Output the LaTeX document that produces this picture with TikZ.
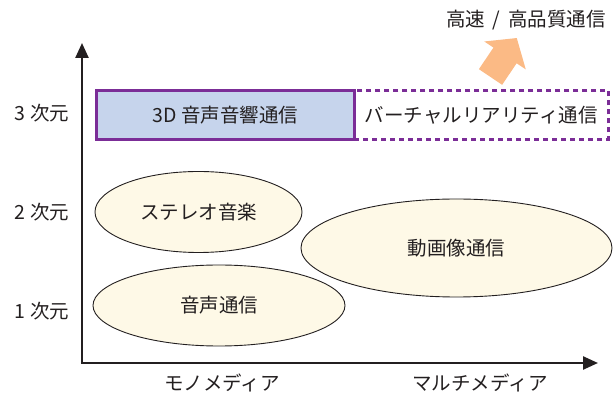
\documentclass[tikz,border=0pt]{standalone}
\usepackage{fontspec}
\setmainfont{Noto Sans CJK JP}
\usetikzlibrary{shapes.geometric,arrows.meta}
\definecolor{txt}{HTML}{231F20}
\definecolor{purp}{HTML}{7B2D97}
\definecolor{boxblue}{HTML}{C6D4EC}
\definecolor{cream}{HTML}{FEF9E7}
\definecolor{orng}{HTML}{FBBA85}
\tikzset{
  txtfont/.style={font=\fontsize{19.5}{21}\selectfont},
  lbl/.style={text=txt, txtfont, inner sep=0pt},
  blob/.style={ellipse, draw=txt, line width=0.9pt, fill=cream, inner sep=0pt, text=txt, txtfont},
  axis/.style={draw=txt, line width=2.4pt, -{Triangle[length=15pt,width=13pt]}},
}
\begin{document}
\begin{tikzpicture}[x=1pt,y=-1pt]
\useasboundingbox (0,0) rectangle (616,395);
% axes
\coordinate (o) at (82,363);
\coordinate (ytop) at (82,43);
\coordinate (xend) at (598,363);
\draw[axis] (o) -- (ytop);
\draw[axis] ([xshift=-1.2pt]o) -- (xend);
% dashed box
\node[draw=purp, line width=2.6pt, dash pattern=on 5pt off 4pt, minimum width=254pt, minimum height=49pt, inner sep=0pt, anchor=north west, text=txt, txtfont] (vr) at (353,89) {バーチャルリアリティ通信};
% solid box
\node[draw=purp, fill=boxblue, line width=2.6pt, minimum width=258pt, minimum height=49pt, inner sep=0pt, anchor=north west, text=txt, txtfont] (sd) at (95,89) {3D 音声音響通信};
% ellipses
\node[blob, minimum width=207pt, minimum height=81pt] (st) at (198.5,212) {ステレオ音楽};
\node[blob, minimum width=252pt, minimum height=81pt] (vo) at (219,305.5) {音声通信};
\node[blob, minimum width=311pt, minimum height=98pt] (mv) at (456.5,248) {動画像通信};
% axis labels
\node[lbl] (l3) at (42,113) {3 次元};
\node[lbl] (l2) at (42,212) {2 次元};
\node[lbl] (l1) at (42,311) {1 次元};
\node[lbl] (mono) at (222,383) {モノメディア};
\node[lbl] (multi) at (480,383) {マルチメディア};
\node[lbl] (hq) at (526,20) {高速\hspace{0.4em}/\hspace{0.4em}高品質通信};
% orange block arrow
\begin{scope}[shift={(490.5,77)}, rotate=56]
\fill[orng] (0,-14) -- (26,-14) -- (26,-25) -- (47,0) -- (26,25) -- (26,14) -- (0,14) -- cycle;
\end{scope}
\end{tikzpicture}
\end{document}
